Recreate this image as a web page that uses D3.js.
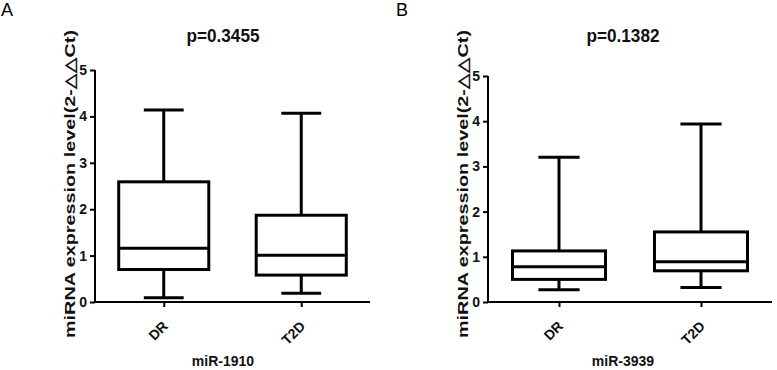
<!DOCTYPE html>
<html><head><meta charset="utf-8">
<script src="https://cdn.jsdelivr.net/npm/d3@7"></script>
<style>
body{margin:0;background:#fff;}
text{font-family:"Liberation Sans",Arial,sans-serif;}
</style></head>
<body>
<svg id="c" width="777" height="370"></svg>
<script>
const categories = ["DR","T2D"];
const yTicks = [0,1,2,3,4,5];
// panel A: miR-1910
const statsA_DR  = {min:0.09, q1:0.70, median:1.16, q3:2.59, max:4.14};
const statsA_T2D = {min:0.19, q1:0.58, median:1.01, q3:1.87, max:4.07};
// panel B: miR-3939
const statsB_DR  = {min:0.27, q1:0.50, median:0.78, q3:1.13, max:3.20};
const statsB_T2D = {min:0.32, q1:0.69, median:0.89, q3:1.55, max:3.94};
const panelLetters = ["A","B"];
const pTitles = ["p=0.3455","p=0.1382"];
const xTitles = ["miR-1910","miR-3939"];
const yTitle = "miRNA expression level(2-△△Ct)";

const svg = d3.select("#c");
const panels = [
  {letter:panelLetters[0], title:pTitles[0], xt:xTitles[0], stats:[statsA_DR,statsA_T2D],
   x0:95, x1:370, y0:302, y5:70, lx:1, tx:223, labx:75},
  {letter:panelLetters[1], title:pTitles[1], xt:xTitles[1], stats:[statsB_DR,statsB_T2D],
   x0:488, x1:772, y0:302, y5:76, lx:396, tx:623, labx:468}
];

panels.forEach(p=>{
  const g = svg.append("g");
  const x = d3.scalePoint().domain(categories).range([p.x0,p.x1]).padding(0.5);
  const y = d3.scaleLinear().domain([0,5]).range([p.y0,p.y5]);
  const step = x.step();
  const bw = step*0.655, cw = step*0.29;

  // y axis
  const ya = g.append("g").attr("transform",`translate(${p.x0},0)`)
    .call(d3.axisLeft(y).tickValues(yTicks).tickFormat(d3.format("d")).tickSize(5).tickPadding(3));
  ya.select(".domain").attr("stroke","#000").attr("stroke-width",2).attr("d",`M0,${p.y5}V${p.y0}`);
  ya.selectAll(".tick line").attr("stroke","#000").attr("stroke-width",2);
  ya.selectAll(".tick text").attr("font-size",14).attr("font-weight","bold").attr("fill","#111")
    .attr("font-family","'Liberation Sans',Arial,sans-serif");

  // x axis
  const xa = g.append("g").attr("transform",`translate(0,${p.y0})`)
    .call(d3.axisBottom(x).tickSize(5).tickSizeOuter(0).tickFormat(""));
  xa.select(".domain").attr("stroke","#000").attr("stroke-width",2).attr("d",`M${p.x0-1},0H${p.x1}`);
  xa.selectAll(".tick line").attr("stroke","#000").attr("stroke-width",2);
  g.selectAll(".xlab").data(categories).enter().append("text")
    .attr("class","xlab")
    .attr("transform",d=>`translate(${x(d)+5},${p.y0+25}) rotate(-45)`)
    .attr("text-anchor","end").attr("font-size",14).attr("font-weight","bold").attr("fill","#111")
    .text(d=>d);

  // boxes
  categories.forEach((c,i)=>{
    const s = p.stats[i], cx = x(c);
    const bg = g.append("g").attr("stroke","#000").attr("stroke-width",3).attr("fill","none");
    bg.append("line").attr("x1",cx).attr("x2",cx).attr("y1",y(s.max)).attr("y2",y(s.q3));
    bg.append("line").attr("x1",cx).attr("x2",cx).attr("y1",y(s.q1)).attr("y2",y(s.min));
    bg.append("line").attr("x1",cx-cw/2).attr("x2",cx+cw/2).attr("y1",y(s.max)).attr("y2",y(s.max));
    bg.append("line").attr("x1",cx-cw/2).attr("x2",cx+cw/2).attr("y1",y(s.min)).attr("y2",y(s.min));
    bg.append("rect").attr("x",cx-bw/2).attr("width",bw).attr("y",y(s.q3)).attr("height",y(s.q1)-y(s.q3)).attr("fill","#fff");
    bg.append("line").attr("x1",cx-bw/2).attr("x2",cx+bw/2).attr("y1",y(s.median)).attr("y2",y(s.median));
  });

  // titles
  g.append("text").attr("x",p.tx).attr("y",42).attr("text-anchor","middle")
    .attr("font-size",18).attr("font-weight","bold").attr("fill","#111")
    .attr("textLength",73).attr("lengthAdjust","spacingAndGlyphs").text(p.title);
  g.append("text").attr("x",p.tx).attr("y",366).attr("text-anchor","middle")
    .attr("font-size",14).attr("font-weight","bold").attr("fill","#111").text(p.xt);
  g.append("text").attr("x",p.lx).attr("y",16).attr("font-size",18).attr("fill","#000").text(p.letter);
  g.append("text").attr("transform",`translate(${p.labx},184) rotate(-90)`).attr("text-anchor","middle")
    .attr("font-size",15).attr("font-weight","bold").attr("fill","#111")
    .attr("textLength",308).attr("lengthAdjust","spacingAndGlyphs").text(yTitle);
});
</script>
</body></html>
